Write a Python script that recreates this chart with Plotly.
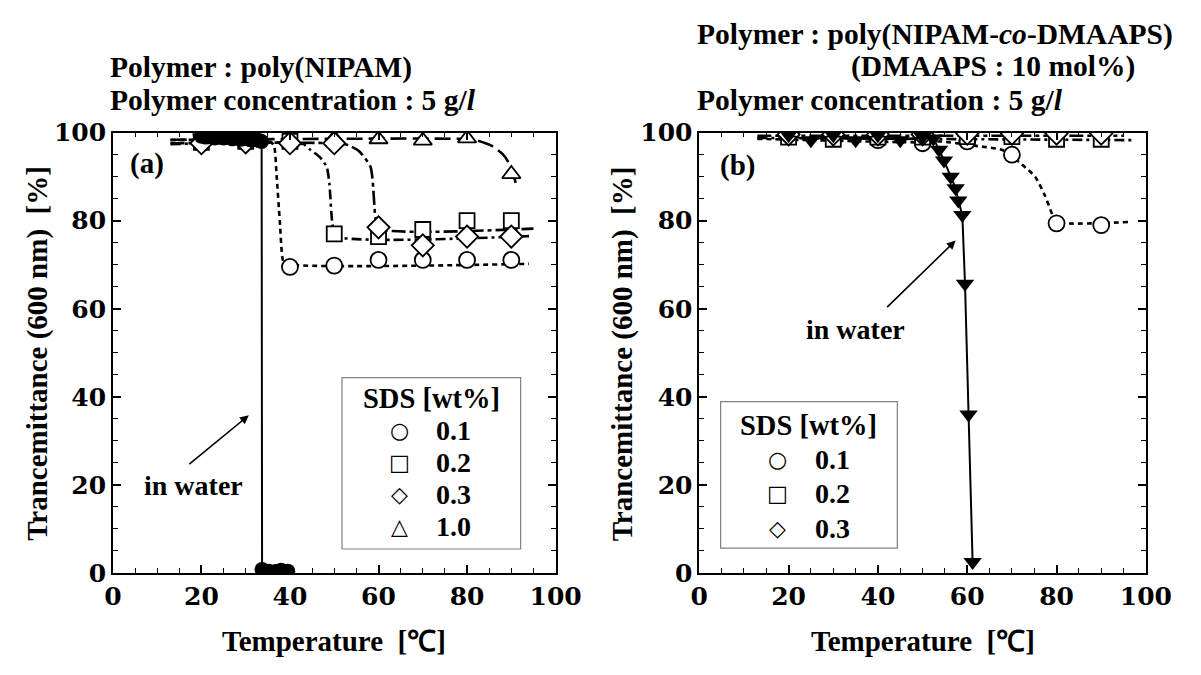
import plotly.graph_objects as go

W, H = 1201, 675

# ---------------- panel (a): poly(NIPAM) ----------------
a_temp = [20, 30, 40, 50, 60, 70, 80, 90]
a_sds01 = [99.5, 99.3, 69.5, 69.8, 71.1, 71.1, 71.1, 71.1]
a_sds02 = [97.8, 98.0, 98.0, 77.0, 76.4, 78.0, 80.0, 80.0]
a_sds03 = [97.6, 97.8, 97.6, 97.6, 78.5, 74.4, 76.4, 76.4]
a_sds10 = [99.0, 99.0, 98.5, 98.7, 98.5, 98.2, 98.7, 90.6]

a_water_temp = [20, 21, 22, 23, 24, 25, 26, 27, 28, 29, 30, 31, 32, 33, 33.6,
                33.7, 35.2, 36.8, 38.0, 39.5]
a_water = [99.2, 99.0, 99.2, 98.8, 99.0, 98.8, 99.0, 98.6, 98.8, 98.5, 98.7,
           98.4, 98.5, 98.2, 98.0, 0.8, 0.4, 0.3, 0.6, 0.4]

# guide curves drawn through the SDS series
a_fit01_t = [13, 35.5, 36.4, 37.0, 37.7, 38.4, 39.0, 94]
a_fit01_v = [98.3, 98.0, 97.0, 90.0, 80.0, 71.0, 70.2, 70.2]
a_fit02_t = [13, 43, 44.6, 46.8, 48.3, 48.9, 49.6, 50.5, 94]
a_fit02_v = [97.4, 97.4, 96.1, 94.4, 92.2, 88.5, 79.2, 76.5, 76.5]
a_fit03_t = [13, 50, 53, 55.5, 58.2, 59.3, 60.0, 95]
a_fit03_v = [97.6, 97.6, 97.2, 95.9, 92.2, 80.7, 78.2, 78.2]
a_fit10_t = [13, 78, 82, 85.6, 88, 89.1, 90.3, 91.3]
a_fit10_v = [98.4, 98.6, 98.3, 97.0, 95.2, 93.7, 91.0, 87.4]

# ---------------- panel (b): poly(NIPAM-co-DMAAPS) ----------------
b_temp = [20, 30, 40, 50, 60, 70, 80, 90]
b_sds01 = [99.5, 99.3, 98.3, 97.6, 98.0, 95.0, 79.4, 79.0]
b_sds02 = [99.0, 98.5, 99.0, 99.0, 99.1, 99.1, 98.5, 98.5]
b_sds03 = [99.6, 99.6, 99.6, 99.6, 99.8, 99.8, 99.8, 99.8]

b_water_temp = [20, 25, 30, 35, 40, 45, 50, 52.4, 53.7, 54.8, 56.3, 57.4, 58.0,
                58.9, 59.5, 60.3, 61.2]
b_water = [99.4, 98.3, 99.4, 98.3, 99.4, 98.3, 99.0, 98.7, 96.1, 93.7, 90.0,
           87.4, 84.6, 81.3, 65.7, 36.0, 2.5]

b_fit01_t = [13, 50, 54, 62, 68, 72.2, 75.2, 77.4, 79.1, 80, 96]
b_fit01_v = [98.6, 97.8, 98.0, 97.0, 96.0, 92.8, 90.0, 85.7, 81.3, 79.7, 79.7]
b_fit02_t = [13, 97]
b_fit02_v = [98.8, 98.3]
b_fit03_t = [13, 95]
b_fit03_v = [99.3, 99.3]

legend_a = ["0.1", "0.2", "0.3", "1.0"]
legend_b = ["0.1", "0.2", "0.3"]
legend_glyphs = ["\u25CB", "\u25A1", "\u25C7", "\u25B3"]

FONT = "Liberation Serif"
TICKFONT = "DejaVu Serif"
BLACK = "#000000"

fig = go.Figure()


def add_fit(t, v, dash, xa, ya, width=2.6):
    fig.add_trace(go.Scatter(x=t, y=v, mode="lines", xaxis=xa, yaxis=ya,
                             line=dict(color=BLACK, width=width, dash=dash,
                                       shape="spline", smoothing=0.6),
                             hoverinfo="skip", showlegend=False))


def add_marks(t, v, symbol, xa, ya, size=16):
    fig.add_trace(go.Scatter(x=t, y=v, mode="markers", xaxis=xa, yaxis=ya,
                             marker=dict(symbol=symbol, size=size, color="white",
                                         line=dict(color=BLACK, width=1.8)),
                             showlegend=False))


DOT = "5px,4px"
DASHDOT1 = "10px,4px,3px,4px"
DASHDOT2 = "14px,4px,4px,4px"
LONG = "16px,6px"

# panel (a)
add_fit(a_fit01_t, a_fit01_v, DOT, "x", "y")
add_fit(a_fit02_t, a_fit02_v, DASHDOT1, "x", "y")
add_fit(a_fit03_t, a_fit03_v, DASHDOT2, "x", "y")
add_fit(a_fit10_t, a_fit10_v, LONG, "x", "y")
add_marks(a_temp, a_sds10, "triangle-up", "x", "y")
add_marks(a_temp, a_sds01, "circle", "x", "y")
add_marks(a_temp, a_sds02, "square", "x", "y", 15)
add_marks(a_temp, a_sds03, "diamond", "x", "y", 17)
fig.add_trace(go.Scatter(x=a_water_temp, y=a_water, mode="lines+markers",
                         xaxis="x", yaxis="y",
                         line=dict(color=BLACK, width=2),
                         marker=dict(symbol="circle", size=15, color=BLACK),
                         showlegend=False))

# panel (b)
add_fit(b_fit01_t, b_fit01_v, DOT, "x2", "y2")
add_fit(b_fit02_t, b_fit02_v, DASHDOT1, "x2", "y2")
add_fit(b_fit03_t, b_fit03_v, DASHDOT2, "x2", "y2")
add_marks(b_temp, b_sds01, "circle", "x2", "y2")
add_marks(b_temp, b_sds02, "square", "x2", "y2", 15)
add_marks(b_temp, b_sds03, "diamond", "x2", "y2", 17)
fig.add_trace(go.Scatter(x=b_water_temp, y=b_water, mode="lines+markers",
                         xaxis="x2", yaxis="y2",
                         line=dict(color=BLACK, width=2),
                         marker=dict(symbol="triangle-down", size=16, color=BLACK),
                         showlegend=False))


def px(x):
    return x / W


def py(y):
    return 1 - y / H


tickfont = dict(family=TICKFONT, size=25, color=BLACK, weight="bold")
axis_common = dict(range=[0, 100], dtick=20, ticks="inside", ticklen=8,
                   tickwidth=1.5, tickcolor=BLACK, showline=True, linewidth=1.5,
                   linecolor=BLACK, mirror="ticks", showgrid=False,
                   zeroline=False, tickfont=tickfont,
                   minor=dict(dtick=5, ticks="inside", ticklen=5, tickwidth=1,
                              tickcolor=BLACK, showgrid=False))

y_dom = [py(584), py(124)]
fig.update_layout(
    width=W, height=H, margin=dict(l=0, r=0, t=0, b=0),
    paper_bgcolor="white", plot_bgcolor="white", showlegend=False,
    xaxis=dict(domain=[px(107), px(563)], anchor="y", **axis_common),
    yaxis=dict(domain=y_dom, anchor="x", **axis_common),
    xaxis2=dict(domain=[px(711), px(1171)], anchor="y2", **axis_common),
    yaxis2=dict(domain=y_dom, anchor="x2", **axis_common),
)

ann = []


def text(x, y, s, size=29, xanchor="center", angle=0, family=FONT):
    ann.append(dict(x=px(x), y=py(y), xref="paper", yref="paper", text=s,
                    showarrow=False, xanchor=xanchor, yanchor="middle",
                    textangle=angle,
                    font=dict(family=family, size=size, color=BLACK, weight="bold")))


# headings
text(102, 56, "Polymer : poly(NIPAM)", size=29.5, xanchor="left")
text(102, 90, "Polymer concentration : 5 g/<i>l</i>", size=29.5, xanchor="left")
text(707, 21, "Polymer : poly(NIPAM-<i>co</i>-DMAAPS)", size=29.5, xanchor="left")
text(865, 55, "(DMAAPS : 10 mol%)", size=29.5, xanchor="left")
text(707, 90, "Polymer concentration : 5 g/<i>l</i>", size=29.5, xanchor="left")

# panel labels
text(142, 156, "(a)")
text(750, 158, "(b)")

# axis titles
text(335, 655, "Temperature  [\u2103]")
text(941, 655, "Temperature  [\u2103]")
text(30, 355, "Trancemittance (600 nm)  [%]", angle=-90)
text(632, 355, "Trancemittance (600 nm)  [%]", angle=-90)

# "in water" callouts
text(190, 493, "in water", size=28)
text(872, 330, "in water", size=28)
ann.append(dict(x=30.7, y=35.8, xref="x", yref="y", ax=-61, ay=50,
                text="", showarrow=True, arrowhead=2, arrowsize=1.1,
                arrowwidth=1.6, arrowcolor=BLACK))
ann.append(dict(x=57.4, y=75.5, xref="x2", yref="y2", ax=-70, ay=68,
                text="", showarrow=True, arrowhead=2, arrowsize=1.1,
                arrowwidth=1.6, arrowcolor=BLACK))

# legend boxes
shapes = [
    dict(type="rect", xref="paper", yref="paper", x0=px(343), x1=px(527),
         y0=py(559), y1=py(380), line=dict(color="#808080", width=1.2)),
    dict(type="rect", xref="paper", yref="paper", x0=px(733), x1=px(915),
         y0=py(558), y1=py(405), line=dict(color="#808080", width=1.2)),
]

text(435, 402, "SDS [wt%]", size=28.5)
for i, lab in enumerate(legend_a):
    yy = 435 + i * 33.5
    text(402, yy, legend_glyphs[i], size=22, family="DejaVu Sans")
    text(438, yy, lab, size=28, xanchor="left")

text(824, 430, "SDS [wt%]", size=28.5)
for i, lab in enumerate(legend_b):
    yy = 465 + i * 36.5
    text(792, yy, legend_glyphs[i], size=22, family="DejaVu Sans")
    text(828, yy, lab, size=28, xanchor="left")

fig.update_layout(annotations=ann, shapes=shapes)
fig.write_html("out.html")
